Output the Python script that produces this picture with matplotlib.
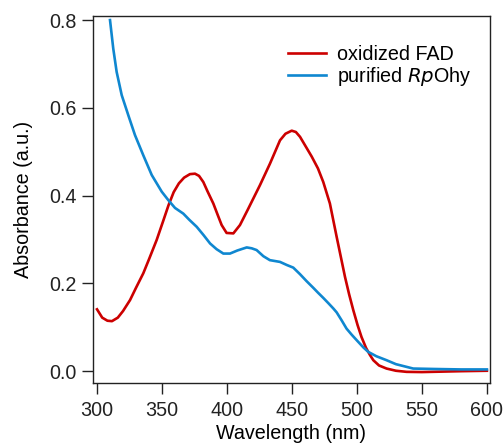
import matplotlib
matplotlib.use('Agg')
import matplotlib.pyplot as plt

plt.rcParams['font.family'] = ['Liberation Sans', 'DejaVu Sans']

# oxidized FAD spectrum
fad_nm = [300, 304, 308, 311.5, 316, 320, 325.4, 330, 335.6, 340, 345.9, 351, 355,
          359, 363, 367, 371.5, 375.4, 378.5, 381.8, 385, 389.5, 393, 395.9, 399.7,
          404.9, 410, 416, 425.4, 433.1, 440.8, 445, 449.8, 453, 456.2, 460,
          465.2, 470, 474.1, 479.2, 484.4, 490.8, 494, 497.2, 500.5, 503.5,
          507, 510, 512.6, 517, 522.8, 530, 538.2, 550, 565, 580, 600]
fad_abs = [0.141, 0.122, 0.115, 0.114, 0.122, 0.137, 0.162, 0.19, 0.223, 0.255,
           0.299, 0.343, 0.378, 0.408, 0.428, 0.441, 0.449, 0.450, 0.445, 0.431,
           0.41, 0.382, 0.355, 0.333, 0.315, 0.314, 0.333, 0.368, 0.424, 0.473,
           0.526, 0.541, 0.548, 0.545, 0.534, 0.515, 0.489, 0.462, 0.431, 0.382,
           0.306, 0.215, 0.175, 0.139, 0.105, 0.078, 0.053, 0.037, 0.025, 0.013,
           0.006, 0.001, -0.0015, -0.002, -0.001, 0.0, 0.001]

# purified RpOhy spectrum
ohy_nm = [310, 312.5, 315.1, 319, 324.1, 329.2, 335.6, 342.1, 349.8, 354.8, 360,
          366.4, 371, 376.7, 382, 387, 392, 397.2, 402.3, 408, 415.2, 419,
          422.8, 428, 433, 440.8, 446, 451, 456.2, 461.3, 466.4, 470, 474.1,
          478, 481.8, 484.4, 488.2, 492, 496, 500, 505, 508.7, 515, 522.8, 530,
          543.3, 560, 580, 600]
ohy_abs = [0.800, 0.735, 0.682, 0.629, 0.583, 0.538, 0.492, 0.447, 0.409, 0.390,
           0.372, 0.359, 0.345, 0.329, 0.31, 0.291, 0.278, 0.268, 0.268, 0.275,
           0.282, 0.28, 0.276, 0.262, 0.253, 0.249, 0.242, 0.236, 0.221, 0.205,
           0.19, 0.179, 0.167, 0.155, 0.143, 0.134, 0.116, 0.097, 0.083, 0.07,
           0.054, 0.044, 0.034, 0.025, 0.016, 0.006, 0.005, 0.004, 0.004]

fig = plt.figure(figsize=(5.04, 4.48), dpi=100)
ax = fig.add_axes([0.1845, 0.145, 0.7875, 0.819])

ax.plot(fad_nm, fad_abs, color='#cc0000', lw=1.9, label='oxidized FAD')
ax.plot(ohy_nm, ohy_abs, color='#0f87d0', lw=1.9, label='purified $\\it{Rp}$Ohy')

ax.set_xlim(296.9, 602.3)
ax.set_ylim(-0.027, 0.809)
ax.set_xticks([300, 350, 400, 450, 500, 550, 600])
ax.set_yticks([0.0, 0.2, 0.4, 0.6, 0.8])
ax.set_yticklabels(['0.0', '0.2', '0.4', '0.6', '0.8'])
ax.tick_params(direction='out', length=8, width=1, labelsize=14.2, colors='#222222')
ax.tick_params(axis='x', pad=5)
for s in ax.spines.values():
    s.set_linewidth(1)
    s.set_color('#222222')

ax.set_xlabel('Wavelength (nm)', fontsize=14.2, labelpad=3)
ax.set_ylabel('Absorbance (a.u.)', fontsize=14.2, labelpad=12)

ax.legend(loc='upper right', frameon=False, fontsize=14.2, handlelength=1.9,
          handletextpad=0.6, labelspacing=0.05, bbox_to_anchor=(1.0, 0.971))

fig.savefig('out.png', dpi=100)
